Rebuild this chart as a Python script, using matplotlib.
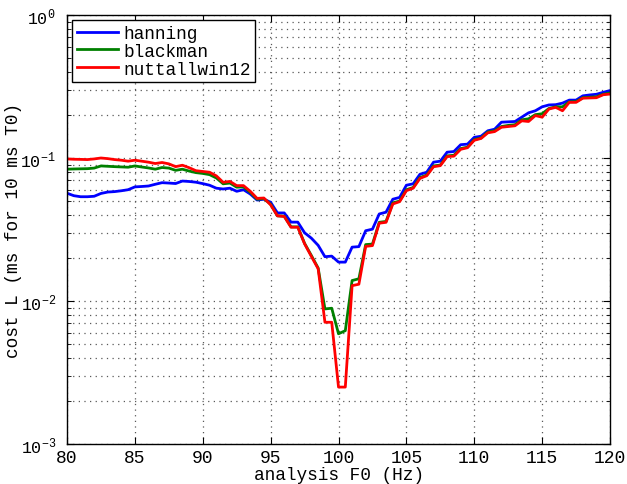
import numpy as np
import matplotlib
matplotlib.use('Agg')
import matplotlib.pyplot as plt
from matplotlib.ticker import LogLocator, FixedLocator

# analysis F0 grid (Hz), 0.5 Hz steps
f0 = np.arange(80, 120.5, 0.5)

hanning = [
    0.0567, 0.0545, 0.0536, 0.0536, 0.0540, 0.0565, 0.0578, 0.0582, 0.0590, 0.0600,
    0.0628, 0.0632, 0.0637, 0.0655, 0.0672, 0.0668, 0.0663, 0.0690, 0.0685, 0.0677,
    0.0662, 0.0645, 0.0615, 0.0607, 0.0615, 0.0585, 0.0600, 0.0560, 0.0508, 0.0515,
    0.0490, 0.0413, 0.0413, 0.0356, 0.0356, 0.0300, 0.0275, 0.0245, 0.0204, 0.0206,
    0.0187, 0.0187, 0.0238, 0.0240, 0.0310, 0.0318, 0.0406, 0.0418, 0.0515, 0.0530,
    0.0645, 0.0660, 0.0770, 0.0795, 0.0935, 0.0950, 0.1098, 0.1110, 0.1239, 0.1250,
    0.1395, 0.1420, 0.1550, 0.1590, 0.1780, 0.1790, 0.1800, 0.1930, 0.2070, 0.2140,
    0.2280, 0.2350, 0.2360, 0.2420, 0.2540, 0.2540, 0.2720, 0.2760, 0.2790, 0.2880,
    0.2960,
]

blackman = [
    0.0835, 0.0838, 0.0840, 0.0842, 0.0850, 0.0880, 0.0875, 0.0870, 0.0866, 0.0862,
    0.0880, 0.0865, 0.0852, 0.0835, 0.0858, 0.0850, 0.0820, 0.0835, 0.0810, 0.0790,
    0.0780, 0.0765, 0.0725, 0.0660, 0.0668, 0.0625, 0.0628, 0.0575, 0.0515, 0.0520,
    0.0475, 0.0394, 0.0392, 0.0330, 0.0330, 0.0253, 0.0208, 0.0170, 0.0088, 0.0089,
    0.0059, 0.0062, 0.0139, 0.0143, 0.0248, 0.0250, 0.0355, 0.0360, 0.0485, 0.0500,
    0.0600, 0.0622, 0.0730, 0.0760, 0.0880, 0.0893, 0.1035, 0.1045, 0.1165, 0.1190,
    0.1345, 0.1380, 0.1520, 0.1550, 0.1660, 0.1690, 0.1710, 0.1850, 0.1880, 0.2010,
    0.2040, 0.2220, 0.2280, 0.2280, 0.2470, 0.2480, 0.2640, 0.2660, 0.2680, 0.2790,
    0.2850,
]

nuttallwin12 = [
    0.0985, 0.0980, 0.0978, 0.0975, 0.0985, 0.1000, 0.0990, 0.0975, 0.0965, 0.0950,
    0.0965, 0.0950, 0.0935, 0.0915, 0.0930, 0.0910, 0.0870, 0.0890, 0.0855, 0.0815,
    0.0805, 0.0795, 0.0750, 0.0676, 0.0686, 0.0641, 0.0641, 0.0585, 0.0522, 0.0525,
    0.0470, 0.0394, 0.0390, 0.0328, 0.0328, 0.0251, 0.0205, 0.0168, 0.0071, 0.0071,
    0.0025, 0.0025, 0.0128, 0.0131, 0.0241, 0.0244, 0.0350, 0.0355, 0.0477, 0.0495,
    0.0591, 0.0615, 0.0720, 0.0752, 0.0869, 0.0884, 0.1023, 0.1030, 0.1150, 0.1180,
    0.1330, 0.1370, 0.1500, 0.1530, 0.1640, 0.1660, 0.1680, 0.1820, 0.1800, 0.1980,
    0.1930, 0.2200, 0.2260, 0.2140, 0.2450, 0.2450, 0.2620, 0.2630, 0.2640, 0.2770,
    0.2800,
]

x_ticks = [80, 85, 90, 95, 100, 105, 110, 115, 120]

plt.rcParams['font.family'] = ['Liberation Mono', 'DejaVu Sans']
plt.rcParams['axes.unicode_minus'] = False

fig = plt.figure(figsize=(6.27, 4.85), dpi=100)
ax = fig.add_axes([0.1069, 0.0825, 0.8660, 0.8845])

ax.plot(f0, hanning, color='#0000ff', linewidth=2, label='hanning')
ax.plot(f0, blackman, color='#008000', linewidth=2, label='blackman')
ax.plot(f0, nuttallwin12, color='#ff0000', linewidth=2, label='nuttallwin12')

ax.set_yscale('log')
ax.set_xlim(80, 120)
ax.set_ylim(1e-3, 1e0)
ax.xaxis.set_major_locator(FixedLocator(x_ticks))
ax.yaxis.set_major_locator(LogLocator(base=10, numticks=10))
ax.yaxis.set_minor_locator(LogLocator(base=10, subs=np.arange(2, 10), numticks=10))

# MATLAB-like sparse dotted grid
ax.grid(True, which='major', linestyle=(0, (1, 3.5)), color='0.35', linewidth=0.9)
ax.grid(True, which='minor', axis='y', linestyle=(0, (1, 3.5)), color='0.35', linewidth=0.9)

ax.tick_params(which='both', direction='in', top=True, right=True)
ax.tick_params(axis='x', labelsize=13)
ax.tick_params(axis='y', labelsize=12, pad=8)
ax.tick_params(which='major', length=5, width=0.8)
ax.tick_params(which='minor', length=3, width=0.6)
for s in ax.spines.values():
    s.set_linewidth(1.0)

ax.set_xlabel('analysis F0 (Hz)', fontsize=12.8, labelpad=0)
ax.set_ylabel('cost L (ms for 10 ms T0)', fontsize=12.8)
ax.yaxis.set_label_coords(-0.083, 0.5)

leg = ax.legend(loc='upper left', fontsize=12.8, fancybox=False, framealpha=1,
                edgecolor='black', handlelength=2.3, handletextpad=0.3,
                labelspacing=0.05, borderpad=0.25, borderaxespad=0.3)
leg.get_frame().set_linewidth(1.0)

fig.savefig('out.png', dpi=100, facecolor='white')
